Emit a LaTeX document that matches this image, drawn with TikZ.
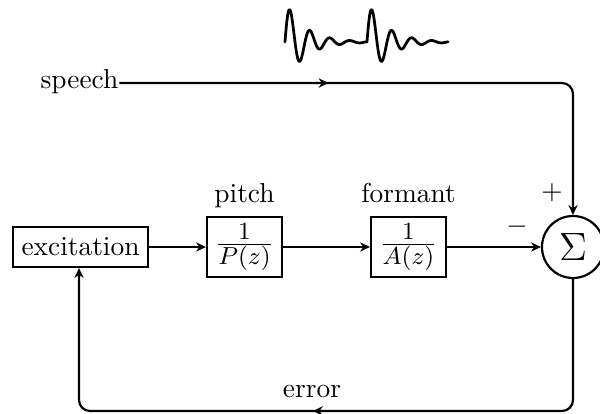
\documentclass[tikz,border=0pt]{standalone}
\usetikzlibrary{arrows.meta,decorations.markings}
\begin{document}
\begin{tikzpicture}[x=0.365pt,y=-0.365pt,
  line width=0.8pt,
  tip/.tip={Stealth[length=3.6pt,width=3.4pt,inset=1.2pt]},
  blk/.style={draw,line width=0.8pt,inner sep=0pt,minimum width=75*0.365pt,minimum height=60*0.365pt,
    font=\fontsize{12.5}{15}\selectfont},
  sumnode/.style={draw,circle,line width=0.8pt,inner sep=0pt,minimum size=62*0.365pt},
  flow/.style={-tip},
  midtip/.style={postaction={decorate},decoration={markings,mark=at position #1 with {\arrow{tip}}}},
  wave/.style={line width=1pt,line join=round,line cap=round}]
\useasboundingbox (0,0) rectangle (600,414);

% blocks of the source-filter model
\node[draw,line width=0.8pt,minimum width=135*0.365pt,minimum height=40*0.365pt,inner sep=0pt] (exc) at (80.5,247) {excitation};
\node[blk] (pitchf) at (244.5,247) {$\frac{1}{P(z)}$};
\node[blk] (formf) at (408.5,247) {$\frac{1}{A(z)}$};
\node[sumnode] (sum) at (573,247) {\Large$\Sigma$};

% labels
\node[anchor=base] (lp) at (244.5,202) {pitch};
\node[anchor=base] (lf) at (408.5,202) {formant};
\node (plus) at (552,193) {$+$};
\node (minus) at (517,227) {$-$};
\node[inner xsep=0pt] (speech) at (79.5,82) {speech};
\node[anchor=base] (err) at (312,397) {error};

% forward path
\draw[flow] (exc.east) -- (pitchf.west);
\draw[flow] (pitchf.east) -- (formf.west);
\draw[flow] (formf.east) -- (sum.west);

% speech input into the summing junction
\coordinate (sc) at (573,83);
\draw[flow,rounded corners=11*0.365pt,midtip=0.36] (speech.east |- sc) -- (sc) -- (sum.north);

% error feedback to the excitation
\coordinate (eb1) at (573,411);
\coordinate (eb2) at (79,411);
\draw[flow,rounded corners=11*0.365pt,midtip=0.51] (sum.south) -- (eb1) -- (eb2) -- (exc.south -| eb2);

% speech waveform: two damped pitch pulses
\draw[wave] plot[domain=0:82,samples=165,smooth] ({285+\x},{42-32*exp(-0.051*(\x-5))*sin(18*\x)})
  -- plot[domain=0:81,samples=163,smooth] ({367+\x},{42-32*exp(-0.051*(\x-5))*sin(18*\x)});
\end{tikzpicture}
\end{document}
